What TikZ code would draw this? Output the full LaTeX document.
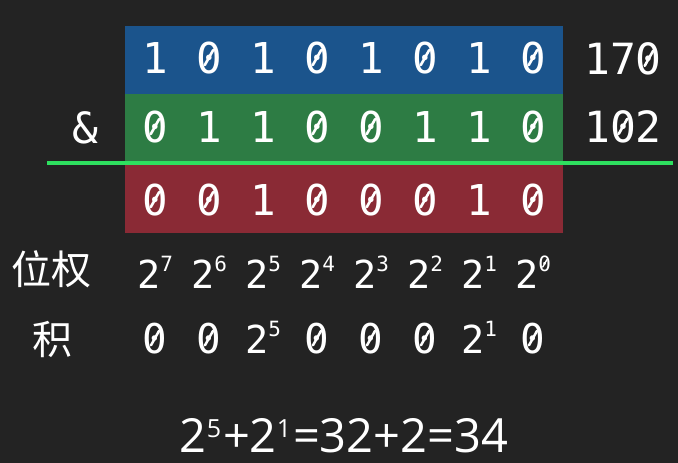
\documentclass[tikz,border=0pt]{standalone}
\usepackage{fontspec}
\setmonofont{DejaVu Sans Mono}
\newfontfamily\cjk{Noto Sans CJK SC}
\newfontfamily\formulafont{Open Sans}
\definecolor{bg}{HTML}{232323}
\definecolor{rowblue}{HTML}{1B548C}
\definecolor{rowgreen}{HTML}{2D7C44}
\definecolor{rowred}{HTML}{8A2A35}
\definecolor{rule}{HTML}{2EE05F}
\tikzset{
  bit/.style={inner sep=0pt, anchor=base, text=white, font=\ttfamily\fontsize{42.5}{42.5}\selectfont},
  num/.style={inner sep=0pt, anchor=base, text=white, font=\ttfamily\fontsize{43}{43}\selectfont},
  pw/.style={inner sep=0pt, anchor=base, text=white, font=\ttfamily\fontsize{38.5}{38.5}\selectfont},
  prod/.style={inner sep=0pt, anchor=base, text=white, font=\ttfamily\fontsize{41}{41}\selectfont},
  lbl/.style={inner sep=0pt, text=white, font=\cjk\fontsize{40}{40}\selectfont},
  zslash/.style={draw=white, line width=2.6pt, line cap=round},
}
\newcommand{\pwr}[1]{2\raisebox{17pt}{\fontsize{21}{21}\selectfont #1}}
\newcommand{\fsup}[1]{\raisebox{14.5pt}{\fontsize{25}{25}\selectfont #1}\hspace{2pt}}
\begin{document}
\begin{tikzpicture}[x=1pt,y=-1pt]
\fill[bg] (0,0) rectangle (678,463);
\useasboundingbox (0,0) rectangle (678,463);
% row boxes
\fill[rowblue] (124.5,26) rectangle (562.5,94);
\fill[rowgreen] (124.5,94) rectangle (562.5,163);
\fill[rowred] (124.5,163) rectangle (562.5,233);
\coordinate (ruleL) at (47,163);
\coordinate (ruleR) at (673,163);
\draw[rule, line width=4pt] (ruleL) -- (ruleR);
% bits
\foreach \b [count=\i from 0] in {1,0,1,0,1,0,1,0}{
  \node[bit] (a\i) at (155+54*\i,73) {\b};
  \ifnum\b=0 \path[zslash] ([shift={(-4.2,7.5)}]a\i.center) -- ([shift={(4.2,-7.5)}]a\i.center);\fi}
\foreach \b [count=\i from 0] in {0,1,1,0,0,1,1,0}{
  \node[bit] (b\i) at (155+54*\i,142) {\b};
  \ifnum\b=0 \path[zslash] ([shift={(-4.2,7.5)}]b\i.center) -- ([shift={(4.2,-7.5)}]b\i.center);\fi}
\foreach \b [count=\i from 0] in {0,0,1,0,0,0,1,0}{
  \node[bit] (c\i) at (155+54*\i,215) {\b};
  \ifnum\b=0 \path[zslash] ([shift={(-4.2,7.5)}]c\i.center) -- ([shift={(4.2,-7.5)}]c\i.center);\fi}
\node[num] (n170) at (623,74) {170};
\node[num] (n102) at (623,142) {102};
\coordinate (z170) at ([shift={(25.9,0)}]n170.center);
\coordinate (z102) at (n102.center);
\path[zslash] ([shift={(-4.2,7.5)}]z170) -- ([shift={(4.2,-7.5)}]z170);
\path[zslash] ([shift={(-4.2,7.5)}]z102) -- ([shift={(4.2,-7.5)}]z102);
\node[num] (amp) at (85,143) {\&};
% labels
\node[lbl] (wq) at (52,269) {位权};
\node[lbl] (ji) at (52,339) {积};
% weights
\foreach \e [count=\i from 0] in {7,6,5,4,3,2,1,0}
  \node[pw] (w\i) at (155+54*\i,288) {\pwr{\e}};
\coordinate (zw) at ([shift={(-6.3,-17-7.65)}]w7.base east);
\path[zslash, line width=1.4pt] ([shift={(-2.1,3.7)}]zw) -- ([shift={(2.1,-3.7)}]zw);
% products
\node[prod] (p0) at (155,353) {0};
\node[prod] (p1) at (209,353) {0};
\node[pw] (p2) at (263,353) {\pwr{5}};
\node[prod] (p3) at (317,353) {0};
\node[prod] (p4) at (371,353) {0};
\node[prod] (p5) at (425,353) {0};
\node[pw] (p6) at (479,353) {\pwr{1}};
\node[prod] (p7) at (533,353) {0};
\foreach \n in {p0,p1,p3,p4,p5,p7}
  \path[zslash, line width=2.5pt] ([shift={(-4,7.2)}]\n.center) -- ([shift={(4,-7.2)}]\n.center);
% formula
\node[inner sep=0pt, anchor=base, text=white, font=\formulafont\fontsize{47}{47}\selectfont] (sum) at (344,452)
  {2\fsup{5}+2\fsup{1}=32+2=34};
\end{tikzpicture}
\end{document}
